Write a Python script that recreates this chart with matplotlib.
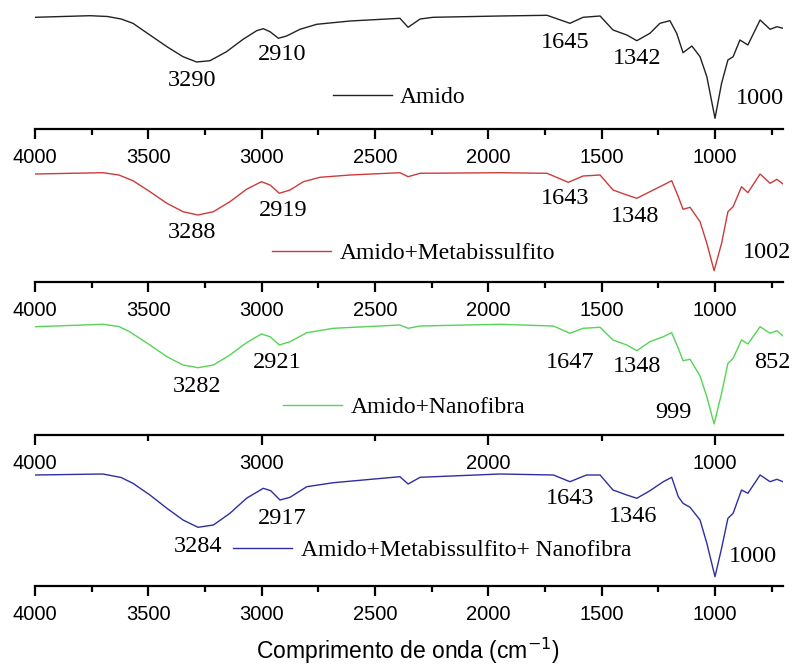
import matplotlib
matplotlib.use("Agg")
import matplotlib.pyplot as plt
from matplotlib.ticker import MultipleLocator

# spectra (wavenumber cm-1, transmittance a.u.)
w_amido = [4000, 3757, 3680, 3620, 3568, 3493, 3418, 3347, 3287, 3228, 3155, 3082, 3022, 2993, 2963, 2926, 2890,
           2831, 2757, 2610, 2390, 2354, 2301, 2244, 1949, 1741, 1640, 1582, 1507, 1450, 1389, 1345, 1287,
           1243, 1199, 1169, 1141, 1102, 1066, 1036, 1000, 971, 943, 920, 890, 855, 801, 757, 727, 700]
t_amido = [111.7, 113.3, 112.5, 110, 105.7, 94, 82.3, 72.3, 67, 68.3, 77.3, 89.7, 98.3, 100.3, 97.3, 90.7, 93,
           99.7, 104.7, 108, 110.7, 101.7, 110, 111.7, 113, 113.7, 105.7, 111.7, 113, 99, 94, 88.3, 95.7,
           105.7, 108.3, 95.7, 76.3, 83, 72.3, 52.3, 10.7, 45.7, 69, 72.3, 89, 84, 109, 99.7, 102.3, 100.7]

w_meta = [4000, 3700, 3630, 3568, 3493, 3418, 3347, 3281, 3213, 3140, 3067, 3001, 2963, 2922, 2875, 2816, 2743,
          2610, 2390, 2354, 2301, 1949, 1741, 1647, 1582, 1507, 1450, 1389, 1345, 1287, 1228, 1191, 1162,
          1141, 1110, 1066, 1036, 1004, 971, 943, 920, 883, 855, 801, 757, 727, 700]
t_meta = [108, 109.3, 107, 101.3, 90.3, 78.7, 70.3, 67, 70.3, 80.3, 92.7, 100.3, 97, 88.7, 92, 100.3, 104.7,
          107, 109.3, 105.3, 108.7, 109.3, 108.7, 99.7, 106, 107, 92, 87, 83.7, 90.3, 97, 101.3, 85.3,
          72.7, 74.7, 60.3, 38.7, 11.3, 38.7, 70.3, 75.3, 95.3, 89.3, 108, 98.7, 102.7, 98]

w_nano = [4000, 3700, 3630, 3583, 3493, 3418, 3347, 3281, 3213, 3140, 3067, 3001, 2963, 2922, 2875, 2801, 2684,
          2390, 2354, 2301, 1949, 1713, 1640, 1582, 1507, 1450, 1389, 1345, 1287, 1228, 1191, 1162, 1141,
          1110, 1066, 1036, 1004, 971, 943, 920, 883, 855, 801, 757, 727, 700]
t_nano = [108.3, 110.7, 108.5, 103.3, 90, 78.3, 70, 67.3, 70, 80, 92.3, 101, 98.3, 90, 93.3, 102.3, 106.7,
          110, 106.7, 109, 110.7, 109, 101.7, 106.7, 107.7, 95, 90, 84.3, 93.3, 98.3, 102.3, 86.7, 74.3,
          75.7, 59, 38.3, 11, 41.7, 71.7, 76.7, 95, 91, 108.3, 101.7, 104.3, 99]

w_mix = [4000, 3700, 3620, 3568, 3493, 3418, 3347, 3281, 3213, 3140, 3067, 2993, 2960, 2919, 2875, 2801, 2684,
         2390, 2354, 2301, 1949, 1713, 1640, 1567, 1507, 1450, 1389, 1345, 1287, 1228, 1191, 1162, 1141,
         1110, 1066, 1036, 1000, 971, 943, 920, 883, 855, 801, 757, 727, 700]
t_mix = [111, 112, 108.5, 102.7, 91, 77.7, 66, 58.7, 61, 72.7, 87.7, 97.7, 95.3, 86, 88.7, 99.3, 103.3,
         109.3, 102, 108.7, 112, 111, 104.3, 111, 111, 96, 91, 87.7, 95.3, 104.3, 108.7, 89.3, 82.7,
         78.7, 66, 42.7, 9.3, 37.7, 67.7, 72.7, 96, 92.7, 111, 104.3, 106.7, 104.3]

names = ["Amido", "Amido+Metabissulfito", "Amido+Nanofibra", "Amido+Metabissulfito+ Nanofibra"]
colors = ["#222222", "#cc3b3b", "#55d455", "#2e2ea0"]

# peak labels: (text, x, y)
peaks_amido = [("3290", 3307, 49), ("2910", 2910, 74), ("1645", 1662, 87), ("1342", 1344, 70), ("1000", 801, 31)]
peaks_meta = [("3288", 3307, 50), ("2919", 2906, 72), ("1643", 1662, 83), ("1348", 1353, 66), ("1002", 771, 29)]
peaks_nano = [("3282", 3286, 49), ("2921", 2933, 72), ("1647", 1640, 72), ("1348", 1344, 68),
              ("999", 1185, 22), ("852", 749, 72)]
peaks_mix = [("3284", 3281, 40), ("2917", 2910, 68), ("1643", 1640, 87), ("1346", 1362, 69), ("1000", 832, 29)]

# legend anchor (axes fraction)
leg_pos = [(0.398, 0.256), (0.317, 0.232), (0.332, 0.224), (0.265, 0.288)]
axis_y = [129, 282, 435, 586]   # pixel row of each bottom axis
major = [500, 500, 1000, 500]

W, H = 793, 669
fig = plt.figure(figsize=(W / 100, H / 100), dpi=100)
serif = "Liberation Serif"
sans = "Liberation Sans"

data = [(w_amido, t_amido, peaks_amido), (w_meta, t_meta, peaks_meta),
        (w_nano, t_nano, peaks_nano), (w_mix, t_mix, peaks_mix)]
ax_h = 125
for i, (w, t, pk) in enumerate(data):
    ax = fig.add_axes([35 / W, 1 - axis_y[i] / H, 748 / W, ax_h / H])
    ax.patch.set_visible(False)
    ax.plot(w, t, color=colors[i], lw=1.0, label=names[i], solid_joinstyle="round")
    ax.set_xlim(4000, 700)
    ax.set_ylim(0, ax_h)
    for s in ["top", "left", "right"]:
        ax.spines[s].set_visible(False)
    ax.spines["bottom"].set_linewidth(1.6)
    ax.set_yticks([])
    ax.xaxis.set_major_locator(MultipleLocator(major[i]))
    ax.xaxis.set_minor_locator(MultipleLocator(major[i] / 2))
    ax.tick_params(axis="x", which="major", length=7, width=1.6, pad=7, labelsize=14.5)
    ax.tick_params(axis="x", which="minor", length=4, width=1.6)
    for lab in ax.get_xticklabels():
        lab.set_fontfamily(sans)
    for txt, x, y in pk:
        ax.text(x, y, txt, ha="center", va="center", fontsize=17.5, family=serif)
    ax.legend(loc="center left", bbox_to_anchor=leg_pos[i], frameon=False, borderpad=0,
              borderaxespad=0, handlelength=2.5, handletextpad=0.35,
              prop={"family": serif, "size": 17})

fig.text(408 / W, 1 - 651 / H, "Comprimento de onda (cm$^{\\mathsf{-1}}$)", ha="center", va="center",
         fontsize=16.5, family=sans)
fig.savefig("out.png", dpi=100)
